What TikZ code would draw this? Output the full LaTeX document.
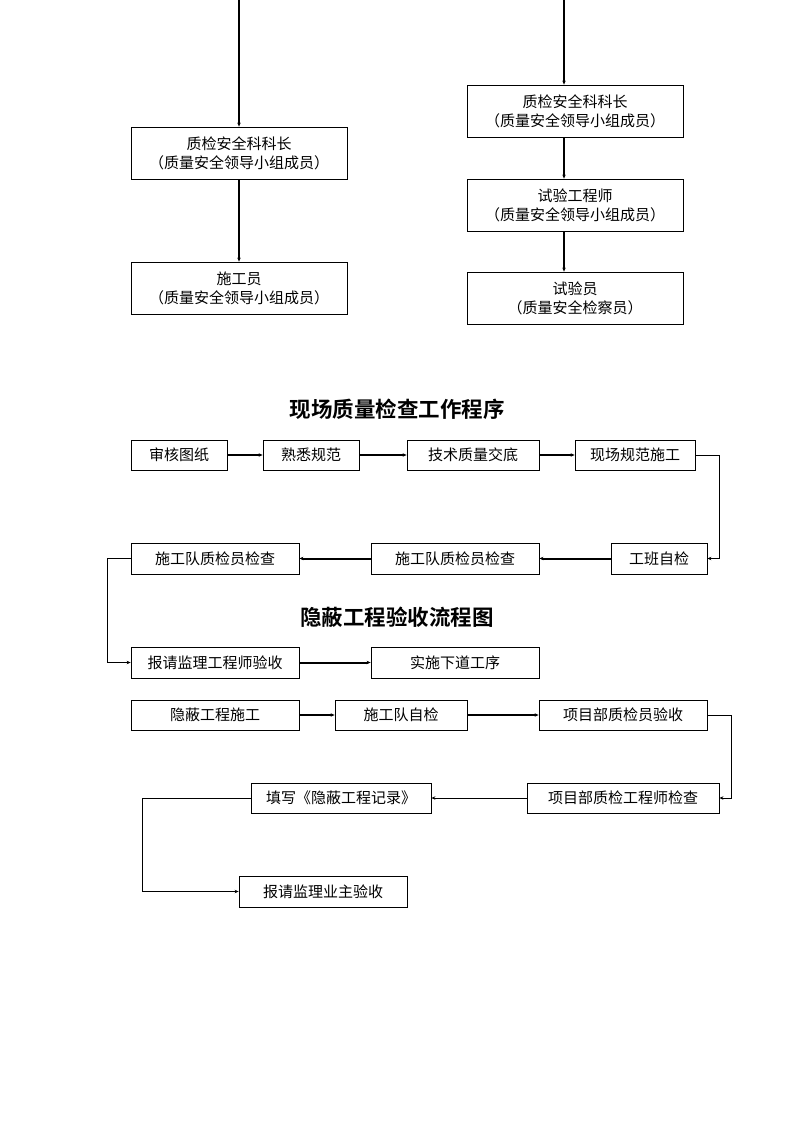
\documentclass[tikz,border=0pt]{standalone}
\usepackage{fontspec}
\setmainfont{Noto Sans CJK SC}
\newfontfamily\cjkb{Noto Sans CJK SC Bold}
\usetikzlibrary{arrows.meta}
\begin{document}
\begin{tikzpicture}[x=1pt,y=-1pt,
  box/.style={draw,line width=0.8pt,inner sep=0pt,align=center,font=\fontsize{15}{19}\selectfont},
  thk/.style={line width=2pt,-{Stealth[length=4pt,width=3.5pt]}},
  thn/.style={line width=0.8pt,-{Stealth[length=4pt,width=3.5pt]}},
  ttl/.style={font=\cjkb\fontsize{21.5}{26}\selectfont}]
\useasboundingbox (0,0) rectangle (794,1123);
% top part
\node[box,minimum width=216pt,minimum height=52pt] (a1) at (239,153) {质检安全科科长\\（质量安全领导小组成员）};
\node[box,minimum width=216pt,minimum height=52pt] (a2) at (239,288) {施工员\\（质量安全领导小组成员）};
\node[box,minimum width=216pt,minimum height=52pt] (b1) at (575,111) {质检安全科科长\\（质量安全领导小组成员）};
\node[box,minimum width=216pt,minimum height=52pt] (b2) at (575,205) {试验工程师\\（质量安全领导小组成员）};
\node[box,minimum width=216pt,minimum height=52pt] (b3) at (575,298) {试验员\\（质量安全检察员）};
\coordinate (ta) at (239,0);
\coordinate (tb) at (564,0);
\draw[thk] (ta) -- (a1.north);
\draw[thk] (a1) -- (a2);
\draw[thk] (tb) -- (tb |- b1.north);
\draw[thk] (b1.south -| tb) -- (b2.north -| tb);
\draw[thk] (b2.south -| tb) -- (b3.north -| tb);
% title 1
\node[ttl] (t1) at (397,409) {现场质量检查工作程序};
% row 1
\node[box,minimum width=96pt,minimum height=30pt] (r1a) at (179,455) {审核图纸};
\node[box,minimum width=96pt,minimum height=30pt] (r1b) at (311,455) {熟悉规范};
\node[box,minimum width=132pt,minimum height=30pt] (r1c) at (473,455) {技术质量交底};
\node[box,minimum width=120pt,minimum height=30pt] (r1d) at (635,455) {现场规范施工};
\draw[thk] (r1a) -- (r1b);
\draw[thk] (r1b) -- (r1c);
\draw[thk] (r1c) -- (r1d);
% row 2
\node[box,minimum width=96pt,minimum height=31pt] (r2c) at (659,558.5) {工班自检};
\node[box,minimum width=168pt,minimum height=31pt] (r2b) at (455,558.5) {施工队质检员检查};
\node[box,minimum width=168pt,minimum height=31pt] (r2a) at (215,558.5) {施工队质检员检查};
\draw[thn] (r1d.east) -- ++(24,0) |- (r2c.east);
\draw[thk] (r2c) -- (r2b);
\draw[thk] (r2b) -- (r2a);
% title 2
\node[ttl] (t2) at (397,617) {隐蔽工程验收流程图};
% row 3
\node[box,minimum width=168pt,minimum height=31pt] (r3a) at (215,662.5) {报请监理工程师验收};
\node[box,minimum width=168pt,minimum height=31pt] (r3b) at (455,662.5) {实施下道工序};
\draw[thn] (r2a.west) -- ++(-23,0) |- (r3a.west);
\draw[thk] (r3a) -- (r3b);
% row 4
\node[box,minimum width=168pt,minimum height=30pt] (r4a) at (215,715) {隐蔽工程施工};
\node[box,minimum width=132pt,minimum height=30pt] (r4b) at (401,715) {施工队自检};
\node[box,minimum width=168pt,minimum height=30pt] (r4c) at (623,715) {项目部质检员验收};
\draw[thk] (r4a) -- (r4b);
\draw[thk] (r4b) -- (r4c);
% row 5
\node[box,minimum width=192pt,minimum height=30pt] (r5b) at (623,798) {项目部质检工程师检查};
\node[box,minimum width=180pt,minimum height=30pt] (r5a) at (341,798) {填写《隐蔽工程记录》};
\draw[thn] (r4c.east) -- ++(24,0) |- (r5b.east);
\draw[thn] (r5b) -- (r5a);
% row 6
\node[box,minimum width=168pt,minimum height=31pt] (r6) at (323,891.5) {报请监理业主验收};
\draw[thn] (r5a.west) -- ++(-108,0) |- (r6.west);
\end{tikzpicture}
\end{document}
